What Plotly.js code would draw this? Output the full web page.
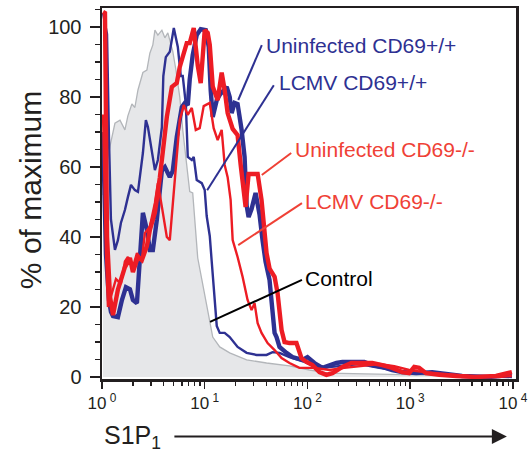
<!DOCTYPE html>
<html>
<head>
<meta charset="utf-8">
<script src="https://cdn.plot.ly/plotly-3.0.1.min.js"></script>
<style>
  html, body { margin: 0; padding: 0; background: #ffffff; }
  #chart { width: 532px; height: 456px; }
</style>
</head>
<body>
<div id="chart"></div>
<script>
// S1P1 staining histograms (log10 fluorescence vs % of maximum)

// Isotype / unstained control (grey filled)
const logControl = [0.010, 0.039, 0.078, 0.126, 0.175, 0.223, 0.252, 0.291, 0.320, 0.350, 0.398, 0.437, 0.466, 0.495, 0.515, 0.544, 0.583, 0.612, 0.641, 0.660, 0.689, 0.718, 0.757, 0.786, 0.816, 0.854, 0.883, 0.903, 0.932, 0.971, 1.019, 1.049, 1.078, 1.146, 1.243, 1.408, 1.602, 1.825, 2.019, 2.214, 2.505, 2.893, 3.282, 3.573, 3.990];
const pctControl = [52, 60, 66, 72.5, 73.4, 70.6, 74.6, 78, 77, 82, 87, 87.7, 92.5, 94.9, 99.1, 97.7, 99.1, 96.9, 98.3, 96.3, 93, 88, 80, 70.6, 62, 53, 52.6, 45, 34, 28, 20, 15.4, 11.4, 8.6, 6.9, 4.9, 4, 3.2, 2, 1.1, 0.9, 0.6, 0.3, 0.1, 0];

// LCMV CD69+/+ (thin blue)
const logLcmvWT = [0.010, 0.049, 0.068, 0.087, 0.126, 0.155, 0.184, 0.223, 0.252, 0.282, 0.320, 0.350, 0.398, 0.427, 0.447, 0.485, 0.515, 0.544, 0.583, 0.597, 0.621, 0.660, 0.699, 0.738, 0.767, 0.786, 0.816, 0.835, 0.874, 0.893, 0.922, 0.971, 1.000, 1.019, 1.049, 1.068, 1.097, 1.117, 1.146, 1.194, 1.243, 1.320, 1.408, 1.505, 1.602, 1.660, 1.728, 1.825, 1.971, 2.117, 2.311, 2.505, 2.699, 2.893, 3.184, 3.573, 3.990];
const pctLcmvWT = [104, 98, 68, 45, 36.3, 39.1, 44, 47.7, 51.4, 54.9, 53.4, 52.9, 64, 73.4, 71.4, 64, 59.1, 62, 71.4, 86, 91.4, 92.9, 99.7, 94.3, 86, 86, 78, 62.9, 62, 62.9, 56.3, 55.4, 53.4, 46, 40.3, 33, 22, 14.6, 12.6, 12.6, 11.4, 8.6, 6.9, 6.3, 6.3, 7.1, 6.9, 5.7, 4.3, 2.6, 3.1, 3.7, 2.6, 1.7, 0.9, 0.3, 0];

// Uninfected CD69+/+ (thick blue)
const logUninfWT = [0.010, 0.039, 0.068, 0.087, 0.107, 0.155, 0.194, 0.233, 0.272, 0.301, 0.340, 0.369, 0.398, 0.437, 0.466, 0.495, 0.534, 0.583, 0.612, 0.660, 0.689, 0.728, 0.777, 0.806, 0.835, 0.854, 0.883, 0.922, 0.961, 1.010, 1.039, 1.058, 1.078, 1.117, 1.146, 1.214, 1.243, 1.262, 1.291, 1.320, 1.359, 1.388, 1.408, 1.427, 1.456, 1.495, 1.534, 1.563, 1.592, 1.631, 1.660, 1.680, 1.699, 1.728, 1.796, 1.854, 1.951, 2.000, 2.068, 2.146, 2.282, 2.340, 2.476, 2.553, 2.631, 2.728, 2.825, 2.922, 3.058, 3.214, 3.350, 3.505, 3.767, 3.990];
const pctUninfWT = [70, 35, 22, 18.6, 17.4, 17.1, 22, 25.7, 25.1, 22, 21.1, 33, 46.9, 42, 36.3, 36.3, 45, 59.1, 60, 57.1, 58.9, 68.6, 77.1, 78.3, 77.7, 85, 92, 97.7, 99.4, 99.1, 94.3, 82, 74.3, 79.1, 80.6, 82.9, 80, 75.4, 78.3, 78, 70.6, 62.9, 49, 45.7, 48, 52.6, 46.3, 39, 33, 27.7, 19.7, 12.6, 11.4, 8.6, 6.9, 5.7, 4.9, 5.7, 4, 2.6, 4, 4.3, 4.3, 4.3, 3.4, 2.9, 2, 1.4, 1.1, 1.4, 0.9, 0.3, 0, 0.6];

// LCMV CD69-/- (thin red)
const logLcmvKO = [0.010, 0.039, 0.058, 0.097, 0.136, 0.184, 0.223, 0.252, 0.301, 0.340, 0.388, 0.417, 0.466, 0.515, 0.544, 0.583, 0.631, 0.660, 0.689, 0.728, 0.757, 0.796, 0.835, 0.874, 0.913, 0.951, 0.990, 1.049, 1.087, 1.126, 1.165, 1.194, 1.223, 1.252, 1.272, 1.320, 1.369, 1.417, 1.456, 1.485, 1.515, 1.553, 1.612, 1.680, 1.748, 1.825, 1.922, 2.068, 2.214, 2.359, 2.505, 2.699, 2.845, 2.990, 3.136, 3.330, 3.573, 3.864, 3.990];
const pctLcmvKO = [75, 35, 20, 24, 28, 26.6, 33, 34.3, 31.4, 35.4, 33.4, 41.1, 43, 49.7, 55.4, 48.6, 40, 39.1, 49.7, 64, 73.4, 77.7, 74.9, 76.9, 70.6, 71.1, 77.4, 78.3, 71.1, 67.7, 70.6, 60.6, 57.1, 50.6, 39.1, 34.3, 28.6, 22, 19.1, 21.1, 15.4, 12.6, 9.7, 7.7, 5.4, 4, 2.6, 2.6, 2, 2.6, 3.1, 3.7, 3.1, 2, 1.4, 0.9, 0.3, 0, 0.3];

// Uninfected CD69-/- (thick red)
const logUninfKO = [0.010, 0.029, 0.049, 0.078, 0.107, 0.155, 0.223, 0.272, 0.301, 0.350, 0.388, 0.437, 0.466, 0.515, 0.563, 0.592, 0.631, 0.680, 0.728, 0.757, 0.786, 0.825, 0.854, 0.893, 0.932, 0.961, 1.000, 1.029, 1.049, 1.078, 1.126, 1.165, 1.194, 1.223, 1.272, 1.320, 1.350, 1.379, 1.398, 1.427, 1.515, 1.553, 1.602, 1.631, 1.680, 1.709, 1.748, 1.777, 1.825, 1.893, 1.942, 1.990, 2.049, 2.117, 2.184, 2.243, 2.340, 2.427, 2.524, 2.631, 2.728, 2.825, 2.922, 2.990, 3.039, 3.087, 3.155, 3.282, 3.447, 3.641, 3.835, 3.932, 3.990];
const pctUninfKO = [104.3, 104, 40, 22.9, 17.7, 25, 31.4, 34, 30, 34.3, 33.4, 37.4, 42, 47, 57, 64, 74.3, 82.9, 84, 88.6, 91.4, 95.4, 95.4, 99.7, 89, 84, 99.1, 98.3, 94.9, 83, 79.1, 87, 82, 75.4, 70.9, 69.1, 60.6, 51.4, 48.6, 58, 58, 50.6, 35.4, 31, 28.6, 24, 13.4, 10, 9.7, 9.7, 5.4, 4.3, 3.4, 1.4, 0.6, 1.1, 2.9, 4, 4, 4, 3.4, 2.6, 1.4, 1.1, 2.9, 2.6, 1.1, 0.6, 0.3, 0, 0.3, 1.1, 1.4];

// Axis ticks
const xTickVals = [1, 10, 100, 1000, 10000];
const xTickText = ['10<sup> 0</sup>', '10<sup> 1</sup>', '10<sup> 2</sup>', '10<sup> 3</sup>', '10<sup> 4</sup>'];
const yTickVals = [0, 20, 40, 60, 80, 100];
const yTickText = ['0', '20', '40', '60', '80', '100'];

const FONT = 'Liberation Sans, Arial, Helvetica, sans-serif';
const INK = '#231f20';
const BLUE = '#2e3192';
const RED = '#ed1c24';
const RED_TEXT = '#ef4136';

const toLinear = arr => arr.map(e => Math.pow(10, e));

const traces = [
  {
    x: toLinear(logControl), y: pctControl, type: 'scatter', mode: 'lines',
    fill: 'tozeroy', fillcolor: '#e6e7e9',
    line: { color: '#b3b6ba', width: 1.3 }, hoverinfo: 'skip'
  },
  {
    x: toLinear(logLcmvWT), y: pctLcmvWT, type: 'scatter', mode: 'lines',
    line: { color: BLUE, width: 2.4 }
  },
  {
    x: toLinear(logUninfWT), y: pctUninfWT, type: 'scatter', mode: 'lines',
    line: { color: BLUE, width: 4.4 }
  },
  {
    x: toLinear(logLcmvKO), y: pctLcmvKO, type: 'scatter', mode: 'lines',
    line: { color: RED, width: 2.4 }
  },
  {
    x: toLinear(logUninfKO), y: pctUninfKO, type: 'scatter', mode: 'lines',
    line: { color: RED, width: 4.4 }
  }
];

// Leader lines from each label to its curve
const leader = (x0, y0, x1, y1, color) => ({
  type: 'line', xref: 'paper', yref: 'paper',
  x0: x0, y0: y0, x1: x1, y1: y1,
  line: { color: color, width: 2 }
});

const label = (text, x, y, color) => ({
  text: text, xref: 'paper', yref: 'paper', x: x, y: y,
  xanchor: 'left', yanchor: 'middle', showarrow: false,
  font: { family: FONT, size: 21, color: color }
});

const layout = {
  width: 532, height: 456,
  margin: { l: 102, r: 16, t: 8, b: 77 },
  paper_bgcolor: '#ffffff', plot_bgcolor: '#ffffff',
  showlegend: false,
  xaxis: {
    type: 'log', range: [0, 4.03],
    showgrid: false, zeroline: false,
    showline: true, mirror: true, linecolor: INK, linewidth: 2.5,
    ticks: 'outside', ticklen: 7, tickwidth: 1.5, tickcolor: INK,
    tickmode: 'array', tickvals: xTickVals, ticktext: xTickText,
    tickfont: { family: FONT, size: 17, color: INK },
    minor: { dtick: 'D1', ticks: 'outside', ticklen: 4, tickwidth: 1.2, tickcolor: INK, showgrid: false }
  },
  yaxis: {
    range: [-0.57, 105.43],
    showgrid: false, zeroline: false,
    showline: true, mirror: true, linecolor: INK, linewidth: 2.5,
    ticks: 'outside', ticklen: 10, tickwidth: 1.5, tickcolor: INK,
    tickmode: 'array', tickvals: yTickVals, ticktext: yTickText,
    ticklabelstandoff: 4,
    tickfont: { family: FONT, size: 20, color: INK },
    minor: { dtick: 5, ticks: 'outside', ticklen: 5, tickwidth: 1.2, tickcolor: INK, showgrid: false }
  },
  shapes: [
    leader(0.386, 0.900, 0.329, 0.752, BLUE),
    leader(0.415, 0.792, 0.254, 0.509, BLUE),
    leader(0.457, 0.609, 0.386, 0.550, RED_TEXT),
    leader(0.483, 0.474, 0.329, 0.361, RED_TEXT),
    leader(0.483, 0.267, 0.261, 0.154, '#000000')
  ],
  annotations: [
    label('Uninfected CD69+/+', 0.392, 0.900, BLUE),
    label('LCMV CD69+/+', 0.423, 0.800, BLUE),
    label('Uninfected CD69-/-', 0.462, 0.619, RED_TEXT),
    label('LCMV CD69-/-', 0.486, 0.479, RED_TEXT),
    label('Control', 0.486, 0.272, '#000000'),
    {
      text: '% of maximum', xref: 'paper', yref: 'paper', x: -0.174, y: 0.509,
      xanchor: 'center', yanchor: 'middle', textangle: -90, showarrow: false,
      font: { family: FONT, size: 30, color: INK }
    },
    {
      text: 'S1P<sub>1</sub>', xref: 'paper', yref: 'paper', x: 0.0, y: -0.156,
      xanchor: 'left', yanchor: 'middle', showarrow: false,
      font: { family: FONT, size: 25, color: INK }
    },
    {
      text: '', xref: 'paper', yref: 'paper', x: 0.978, y: -0.155,
      ax: -334, ay: 0, showarrow: true,
      arrowhead: 2, arrowsize: 1.5, arrowwidth: 2, arrowcolor: INK
    }
  ]
};

Plotly.newPlot('chart', traces, layout, { displayModeBar: false, staticPlot: true });
</script>
</body>
</html>
